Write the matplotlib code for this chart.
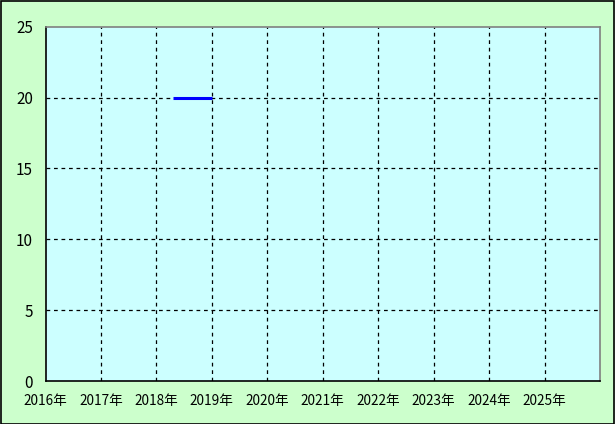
import matplotlib
matplotlib.use("Agg")
import matplotlib.pyplot as plt
from matplotlib.patches import Rectangle

plt.rcParams['font.family'] = ['Noto Sans CJK JP', 'DejaVu Sans']

# data
years = [2016, 2017, 2018, 2019, 2020, 2021, 2022, 2023, 2024, 2025]
year_labels = [f"{y}年" for y in years]
series_x = [2018.3, 2019.0]
series_y = [20, 20]
y_ticks = [0, 5, 10, 15, 20, 25]

fig = plt.figure(figsize=(6.15, 4.24), dpi=100, facecolor='#ccffcc')
ax = fig.add_axes([45.5 / 615, 1 - 381 / 424, (600 - 45.5) / 615, (381 - 26.7) / 424])
ax.set_facecolor('#ccffff')

ax.plot(series_x, series_y, color='#0000ff', linewidth=2.2, solid_capstyle='butt', zorder=3)

ax.set_xlim(2016, 2026)
ax.set_ylim(0, 25)
ax.set_xticks(years)
ax.set_xticklabels(year_labels)
ax.set_yticks(y_ticks)
ax.tick_params(length=0, colors='black')
ax.tick_params(axis='x', pad=9, labelsize=9.8)
ax.tick_params(axis='y', pad=9, labelsize=11)

ax.grid(True, color='black', linestyle=(0, (3, 3)), linewidth=0.9)
ax.set_axisbelow(True)
# no dashed lines on the frame edges
ax.get_xgridlines()[0].set_visible(False)
ax.get_ygridlines()[0].set_visible(False)
ax.get_ygridlines()[-1].set_visible(False)

ax.spines['left'].set_color('black')
ax.spines['bottom'].set_color('black')
ax.spines['top'].set_color('#808080')
ax.spines['right'].set_color('#808080')
for s in ax.spines.values():
    s.set_linewidth(1.2)

# outer frame
fig.patches.append(Rectangle((0.001, 0.001), 0.997, 0.997, transform=fig.transFigure,
                             fill=False, edgecolor='black', linewidth=1.2))

fig.savefig("out.png", dpi=100, facecolor=fig.get_facecolor())
